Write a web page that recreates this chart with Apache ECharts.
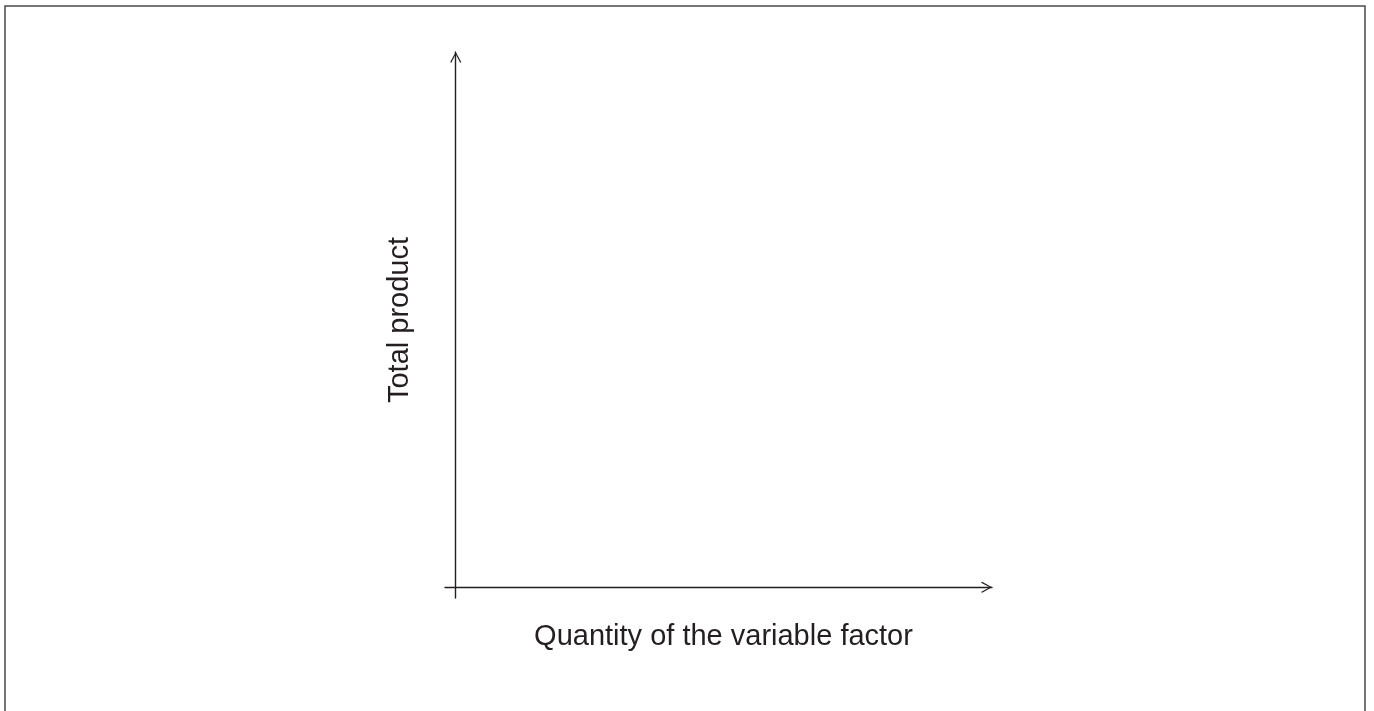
<!DOCTYPE html>
<html>
<head>
<meta charset="utf-8">
<script src="https://cdn.jsdelivr.net/npm/echarts@6/dist/echarts.min.js"></script>
<style>
  html, body { margin: 0; padding: 0; background: #fff; }
  #chart { width: 1374px; height: 711px; }
</style>
</head>
<body>
<div id="chart"></div>
<script>
// axis ranges (the diagram has no plotted values, only the two axes)
const xRange = [-2, 100];
const yRange = [-2, 100];
const xName = 'Quantity of the variable factor';
const yName = 'Total product';

// open chevron arrow head, pointing up
const chevron = 'path://M50,0 L100,90 L92,100 L50,20 L8,100 L0,90 Z';

const axisColor = '#231f20';

const axisCommon = {
    type: 'value',
    nameLocation: 'middle',
    axisLine: {
        onZero: true,
        symbol: ['none', chevron],
        symbolSize: [14, 11],
        symbolOffset: [0, -5.5],
        lineStyle: { color: axisColor, width: 1.4 },
    },
    axisTick: { show: false },
    axisLabel: { show: false },
    splitLine: { show: false },
};

const nameStyle = {
    fontFamily: 'Liberation Sans, Arial, sans-serif',
    fontSize: 29,
    color: '#231f20',
    padding: [0, 0, 0, 10],
};

const chart = echarts.init(document.getElementById('chart'));
chart.setOption({
    animation: false,
    grid: { left: 445, top: 52, width: 547, height: 546 },
    xAxis: Object.assign({}, axisCommon, {
        min: xRange[0], max: xRange[1],
        name: xName, nameGap: 24,
        nameTextStyle: nameStyle,
    }),
    yAxis: Object.assign({}, axisCommon, {
        min: yRange[0], max: yRange[1],
        name: yName, nameGap: 31,
        nameTextStyle: nameStyle,
    }),
    graphic: [{
        type: 'rect',
        shape: { x: 5, y: 6, width: 1360, height: 730 },
        style: { fill: 'none', stroke: '#4a4a4a', lineWidth: 1.5 },
    }],
    series: [{ type: 'line', data: [] }],
});
</script>
</body>
</html>
